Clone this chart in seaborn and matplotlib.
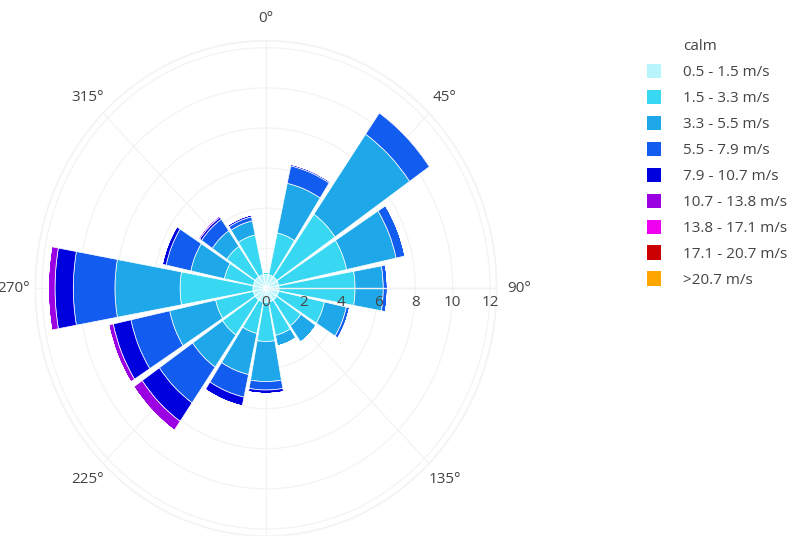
import numpy as np
import matplotlib
matplotlib.use('Agg')
import matplotlib.pyplot as plt
import seaborn as sns
from matplotlib.patches import Patch
from matplotlib.transforms import offset_copy

# wind directions (degrees, clockwise from north)
directions = [0, 22.5, 45, 67.5, 90, 112.5, 135, 157.5,
              180, 202.5, 225, 247.5, 270, 292.5, 315, 337.5]

speed_labels = ['0.5 - 1.5 m/s', '1.5 - 3.3 m/s', '3.3 - 5.5 m/s', '5.5 - 7.9 m/s',
                '7.9 - 10.7 m/s', '10.7 - 13.8 m/s', '13.8 - 17.1 m/s',
                '17.1 - 20.7 m/s', '>20.7 m/s']
speed_colors = ['#b8f4fc', '#38d8f2', '#1ea8e9', '#125cf0', '#0000de',
                '#9a00e2', '#f000f0', '#cc0000', '#ffa500']

# frequency (%) per direction for each speed bin
freq_05_15 = [0.7, 0.7, 0.7, 0.7, 0.7, 0.7, 0.7, 0.7,
              0.7, 0.7, 0.7, 0.7, 0.7, 0.7, 0.7, 0.7]
freq_15_33 = [0.1, 2.13, 3.8, 3.72, 4.07, 2.5, 1.57, 1.7,
              1.95, 1.6, 2.13, 2.06, 3.9, 1.58, 1.85, 2.03]
freq_33_55 = [0, 2.53, 4.86, 2.71, 1.51, 1.2, 0.99, 0.54,
              2.0, 2.1, 1.95, 2.52, 3.49, 1.84, 0.95, 0.72]
freq_55_79 = [0, 0.89, 1.29, 0.49, 0.22, 0.18, 0, 0,
              0.42, 1.15, 2.17, 2.12, 2.23, 1.35, 0.7, 0.2]
freq_79_107 = [0, 0.08, 0.05, 0, 0, 0, 0, 0,
               0.17, 0.45, 1.12, 0.97, 0.98, 0.21, 0.12, 0.1]
freq_107_138 = [0, 0, 0, 0, 0, 0, 0, 0,
                0, 0, 0.55, 0.25, 0.36, 0, 0.08, 0]
freq_138_171 = [0] * 16
freq_171_207 = [0] * 16
freq_207_up = [0] * 16

radial_ticks = [0, 2, 4, 6, 8, 10, 12]
angle_ticks = [0, 45, 90, 135, 180, 225, 270, 315]


def plot_windrose():
    sns.set_theme(style='white')
    plt.rcParams['font.family'] = ['Open Sans', 'DejaVu Sans']
    text_color = '#444444'
    grid_color = '#f3f3f3'
    font_size = 11

    series = [freq_05_15, freq_15_33, freq_33_55, freq_55_79, freq_79_107,
              freq_107_138, freq_138_171, freq_171_207, freq_207_up]
    palette = sns.color_palette(speed_colors)

    fig = plt.figure(figsize=(7.88, 5.36), dpi=100)
    ax = fig.add_axes([0.0449, 0.0, 0.5853, 0.924], projection='polar')
    ax.set_aspect('auto')
    ax.set_theta_zero_location('N')
    ax.set_theta_direction(-1)

    theta = np.deg2rad(directions)
    bottom = np.zeros(len(directions))
    for vals, color, label in zip(series, palette, speed_labels):
        vals = np.array(vals, dtype=float)
        ax.bar(theta, vals, width=np.deg2rad(20.5), bottom=bottom, color=color,
               edgecolor='white', linewidth=0.5, label=label, zorder=2)
        bottom += vals

    ax.set_ylim(0, 12.35)
    ax.set_yticks(radial_ticks[1:])
    ax.set_yticklabels([])
    ax.set_xticks(np.deg2rad(angle_ticks))
    ax.set_xticklabels([f'{a}°' for a in angle_ticks])
    ax.tick_params(axis='x', pad=3, labelsize=font_size, colors=text_color)
    ax.grid(True, color=grid_color, linewidth=0.9)
    ax.spines['polar'].set_color(grid_color)
    ax.set_axisbelow(True)

    # radial axis line drawn above the bars, labels below it
    ax.plot([np.pi / 2, np.pi / 2], [0, 12.35], color='#f2f2f2', linewidth=1.0, zorder=3)
    trans = offset_copy(ax.transData, fig=fig, x=0, y=-14, units='dots')
    for r in radial_ticks:
        ax.text(np.pi / 2, r, str(r), transform=trans, ha='center', va='center',
                fontsize=font_size, color=text_color, zorder=4)

    handles = [Patch(facecolor='none', edgecolor='none', label='calm')]
    handles += [Patch(facecolor=c, edgecolor='none', label=l) for c, l in zip(palette, speed_labels)]
    fig.legend(handles=handles, loc='upper left', bbox_to_anchor=(0.821, 0.929),
               frameon=False, fontsize=font_size, labelcolor=text_color, labelspacing=0.63,
               handlelength=0.92, handleheight=1.05, handletextpad=1.45, borderpad=0,
               borderaxespad=0)

    fig.savefig('out.png', dpi=100)


if __name__ == '__main__':
    plot_windrose()
